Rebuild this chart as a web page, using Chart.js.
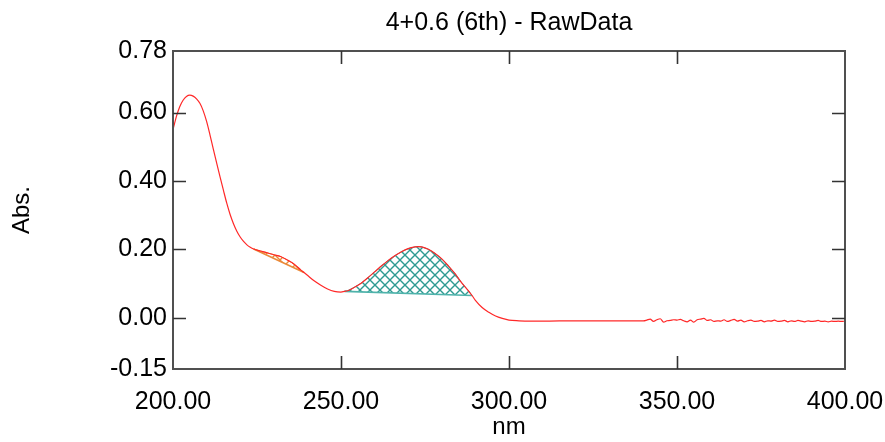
<!DOCTYPE html>
<html>
<head>
<meta charset="utf-8">
<script src="https://cdn.jsdelivr.net/npm/chart.js@4/dist/chart.umd.min.js"></script>
<style>
  body { margin: 0; background: #fff; }
  #wrap { width: 885px; height: 442px; }
</style>
</head>
<body>
<div id="wrap"><canvas id="spec"></canvas></div>
<script>
// wavelength (nm) and absorbance
const wavelength = [
  200, 201, 202, 203, 204, 205, 206, 207, 208, 209, 210, 211, 212, 213, 214, 215,
  216, 217, 218, 219, 220, 221, 222, 223, 224, 226, 228, 230, 232, 234, 236, 238,
  239, 240, 242, 244, 246, 248, 250, 251, 252, 254, 256, 258, 260, 262, 264, 266,
  268, 270, 272, 273, 274, 276, 278, 280, 282, 284, 286, 288, 289, 290, 292, 294,
  296, 298, 300, 303, 306, 310, 320, 330, 338,
  340, 341, 342, 343, 344, 345, 346, 347, 348, 349, 350, 351, 352, 353, 354, 355,
  356, 357, 358, 359, 360, 361, 362, 363, 364, 365, 366, 367, 368, 369, 370, 371,
  372, 373, 374, 375, 376, 377, 378, 379, 380, 381, 382, 383, 384, 385, 386, 387,
  388, 389, 390, 391, 392, 393, 394, 395, 396, 397, 398, 399, 400
];
const absorbance = [
  0.550, 0.588, 0.617, 0.636, 0.647, 0.651, 0.648, 0.640, 0.627, 0.605, 0.574, 0.535, 0.493, 0.452, 0.412, 0.373,
  0.335, 0.302, 0.275, 0.253, 0.236, 0.223, 0.213, 0.206, 0.201, 0.195, 0.190, 0.184, 0.179, 0.169, 0.157, 0.140,
  0.132, 0.124, 0.108, 0.095, 0.084, 0.077, 0.075, 0.077, 0.079, 0.089, 0.101, 0.117, 0.134, 0.151, 0.167, 0.181,
  0.193, 0.202, 0.207, 0.208, 0.207, 0.200, 0.188, 0.172, 0.151, 0.128, 0.101, 0.078, 0.065, 0.051, 0.030, 0.016,
  0.005, -0.002, -0.007, -0.009, -0.010, -0.010, -0.009, -0.009, -0.009,
  -0.009, -0.007, -0.004, -0.011, -0.006, -0.003, -0.013, -0.009, -0.008, -0.006, -0.007, -0.005, -0.009, -0.012, -0.007, -0.013,
  -0.006, -0.004, -0.002, -0.008, -0.006, -0.011, -0.009, -0.010, -0.006, -0.011, -0.008, -0.005, -0.010, -0.007, -0.012, -0.009,
  -0.007, -0.011, -0.010, -0.008, -0.012, -0.009, -0.010, -0.007, -0.011, -0.010, -0.008, -0.012, -0.009, -0.011, -0.008, -0.010,
  -0.012, -0.009, -0.011, -0.010, -0.008, -0.011, -0.010, -0.012, -0.010, -0.011, -0.010, -0.011, -0.010
];

// integrated peak windows [start nm, end nm]
const peakOrange = [224, 239];
const peakTeal = [251, 289];

const xTicks = [200, 250, 300, 350, 400];
const yTicks = [-0.15, 0.00, 0.20, 0.40, 0.60, 0.78];

const FONT = 'Arial, "Liberation Sans", sans-serif';
const TEAL = "#2f9a92";
const ORANGE = "#ea8a3a";

function hatch(color) {
  const c = document.createElement("canvas");
  c.width = 10; c.height = 10;
  const g = c.getContext("2d");
  g.strokeStyle = color;
  g.lineWidth = 1.4;
  g.beginPath();
  g.moveTo(-1, -1); g.lineTo(11, 11);
  g.moveTo(11, -1); g.lineTo(-1, 11);
  g.stroke();
  return g.createPattern(c, "repeat");
}

const curve = wavelength.map((x, i) => ({ x: x, y: absorbance[i] }));
function peakShape(win) {
  // curve across the window; 'shape' fill closes it with the straight baseline
  return curve.filter(p => p.x >= win[0] && p.x <= win[1]);
}
function baseline(win) {
  const pts = peakShape(win);
  return [pts[0], pts[pts.length - 1]];
}

// inward tick marks + full frame, like the instrument software
const frame = {
  id: "frame",
  afterDatasetsDraw(chart) {
    const { ctx, chartArea: a, scales } = chart;
    const len = 13;
    ctx.save();
    ctx.strokeStyle = "#505050";
    ctx.lineWidth = 2;
    ctx.strokeRect(a.left, a.top, a.right - a.left, a.bottom - a.top);
    ctx.beginPath();
    xTicks.slice(1, -1).forEach(v => {
      const px = Math.round(scales.x.getPixelForValue(v)) + 0.5;
      ctx.moveTo(px, a.bottom); ctx.lineTo(px, a.bottom - len);
      ctx.moveTo(px, a.top); ctx.lineTo(px, a.top + len);
    });
    yTicks.slice(1, -1).forEach(v => {
      const py = Math.round(scales.y.getPixelForValue(v)) + 0.5;
      ctx.moveTo(a.left, py); ctx.lineTo(a.left + len, py);
      ctx.moveTo(a.right, py); ctx.lineTo(a.right - len, py);
    });
    ctx.lineWidth = 1.6;
    ctx.strokeStyle = "#333";
    ctx.stroke();
    ctx.restore();
  }
};

new Chart(document.getElementById("spec"), {
  type: "line",
  data: {
    datasets: [
      {
        data: curve,
        borderColor: "rgb(255,40,40)",
        borderWidth: 1.2,
        pointRadius: 0,
        cubicInterpolationMode: "monotone",
        fill: false,
      },
      {
        data: baseline(peakTeal),
        borderColor: "#4fb3ab",
        borderWidth: 1.6,
        pointRadius: 0,
        fill: false,
      },
      {
        data: baseline(peakOrange),
        borderColor: ORANGE,
        borderWidth: 1.6,
        pointRadius: 0,
        fill: false,
      },
      {
        data: peakShape(peakTeal),
        borderColor: TEAL,
        backgroundColor: hatch(TEAL),
        borderWidth: 1,
        pointRadius: 0,
        tension: 0,
        fill: "shape",
      },
      {
        data: peakShape(peakOrange),
        borderColor: ORANGE,
        backgroundColor: hatch(ORANGE),
        borderWidth: 1,
        pointRadius: 0,
        tension: 0,
        fill: "shape",
      },
    ],
  },
  options: {
    responsive: true,
    maintainAspectRatio: false,
    animation: false,
    events: [],
    layout: { padding: { left: 0, right: 40, top: 0, bottom: 0 } },
    plugins: {
      legend: { display: false },
      tooltip: { enabled: false },
      title: {
        display: true,
        fullSize: false,
        text: "4+0.6 (6th) - RawData",
        color: "#000",
        font: { family: FONT, size: 25, weight: "normal" },
        padding: { top: 8, bottom: 13 },
      },
    },
    scales: {
      x: {
        type: "linear",
        min: 200,
        max: 400,
        grid: { display: false, drawTicks: false, tickLength: 0 },
        border: { display: false },
        afterBuildTicks: s => { s.ticks = xTicks.map(v => ({ value: v })); },
        afterFit: s => { s.height = 73; s.paddingLeft = 0; s.paddingRight = 0; },
        ticks: {
          color: "#000",
          padding: 18,
          maxRotation: 0,
          font: { family: FONT, size: 25 },
          callback: v => v.toFixed(2),
        },
        title: {
          display: true,
          text: "nm",
          color: "#000",
          font: { family: FONT, size: 24 },
          padding: 0,
        },
      },
      y: {
        min: -0.15,
        max: 0.78,
        grid: { display: false, drawTicks: false, tickLength: 0 },
        border: { display: false },
        afterBuildTicks: s => { s.ticks = yTicks.map(v => ({ value: v })); },
        afterFit: s => { s.width = 173; s.paddingTop = 0; s.paddingBottom = 0; },
        ticks: {
          color: "#000",
          padding: 6,
          font: { family: FONT, size: 25 },
          callback: v => v.toFixed(2),
        },
        title: {
          display: true,
          text: "Abs.",
          color: "#000",
          font: { family: FONT, size: 24 },
          padding: { top: 8, bottom: 0 },
        },
      },
    },
  },
  plugins: [frame],
});
</script>
</body>
</html>
